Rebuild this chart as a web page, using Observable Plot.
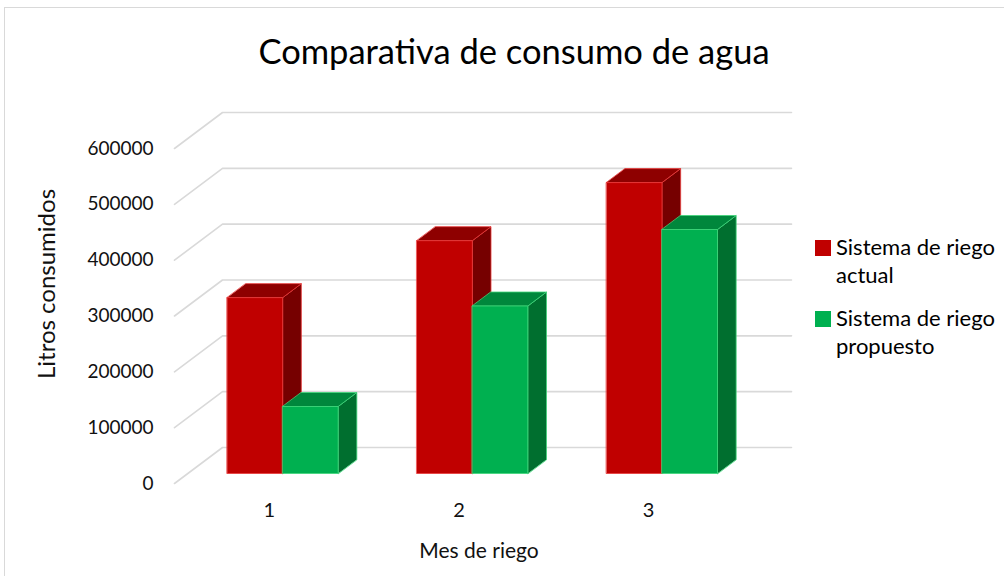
<!DOCTYPE html>
<html>
<head>
<meta charset="utf-8">
<script src="https://cdn.jsdelivr.net/npm/d3@7"></script>
<script src="https://cdn.jsdelivr.net/npm/@observablehq/plot@0.6"></script>
<style>
  body { margin: 0; background: #fff; }
  #wrap { position: relative; width: 1004px; height: 576px; overflow: hidden; font-family: Lato, "Open Sans", sans-serif; color: #000; background: #fff; }
  #frame { position: absolute; left: 4px; top: 7px; width: 1100px; height: 700px; border: 1px solid #d9d9d9; box-sizing: border-box; }
  #chart { position: absolute; left: 0; top: 0; }
  #title { position: absolute; left: 0; top: 31px; width: 1028px; text-align: center; font-size: 34.5px; line-height: 40px; color: #000; }
  .leg { position: absolute; left: 815px; font-size: 22px; line-height: 28px; color: #000; }
  .leg .sw { position: absolute; left: 0; width: 16px; height: 16px; }
  .leg .tx { position: absolute; left: 21px; white-space: nowrap; }
</style>
</head>
<body>
<div id="wrap">
  <div id="frame"></div>
  <div id="chart"></div>
  <div id="title">Comparativa de consumo de agua</div>
  <div id="legend"></div>
</div>
<script>
// ---- data ----
const meses = [1, 2, 3];
const series = ["Sistema de riego actual", "Sistema de riego propuesto"];
const legendLines = [["Sistema de riego", "actual"], ["Sistema de riego", "propuesto"]];
const actual = [315000, 417000, 521000];
const propuesto = [120000, 300000, 437000];
const yTicks = [0, 100000, 200000, 300000, 400000, 500000, 600000];

// ---- styles ----
const palettes = [
  { front: "#c00000", top: "#8e0000", side: "#760000", edge: "#e83a3a", swatch: "#c00000" },
  { front: "#00b050", top: "#00873c", side: "#006f2f", edge: "#3fd67a", swatch: "#00b050" }
];
const W = 1004, H = 576;
const M = { left: 174, right: 261, top: 148, bottom: 93 };
const X_DOMAIN = [0.5, 3.5], Y_DOMAIN = [0, 600000];
const pxX = (W - M.left - M.right) / (X_DOMAIN[1] - X_DOMAIN[0]);
const pxY = (H - M.top - M.bottom) / (Y_DOMAIN[1] - Y_DOMAIN[0]);
const depthX = 48 / pxX, depthY = 36 / pxY;   // full floor depth (oblique projection)
const barFront = 10 / 36, barBack = 24 / 36;  // bar depth fractions
const barW = 55.5 / pxX;

// gridlines (left wall diagonal + back wall horizontal)
const grid = [];
yTicks.forEach(t => {
  grid.push({ id: t, x: X_DOMAIN[0], y: t });
  grid.push({ id: t, x: X_DOMAIN[0] + depthX, y: t + depthY });
  grid.push({ id: t, x: X_DOMAIN[1] + depthX, y: t + depthY });
});

// 3D bar faces
const faces = [];
const seriesValues = [actual, propuesto];
meses.forEach((m, i) => {
  seriesValues.forEach((vals, s) => {
    const v = vals[i];
    const p = palettes[s];
    const xl = m - barW + s * barW, xr = xl + barW;
    const fx = barFront * depthX, fy = barFront * depthY;
    const bx = barBack * depthX, by = barBack * depthY;
    const add = (name, pts, fill) => pts.forEach(([x, y]) =>
      faces.push({ id: `${m}-${s}-${name}`, x, y, fill, stroke: p.edge }));
    add("side", [[xr + fx, fy], [xr + fx, v + fy], [xr + bx, v + by], [xr + bx, by]], p.side);
    add("top", [[xl + fx, v + fy], [xr + fx, v + fy], [xr + bx, v + by], [xl + bx, v + by]], p.top);
    add("front", [[xl + fx, fy], [xr + fx, fy], [xr + fx, v + fy], [xl + fx, v + fy]], p.front);
  });
});

const chart = Plot.plot({
  width: W, height: H,
  marginLeft: M.left, marginRight: M.right, marginTop: M.top, marginBottom: M.bottom,
  x: { domain: X_DOMAIN, axis: null },
  y: { domain: Y_DOMAIN, axis: null },
  color: { type: "identity" },
  style: { fontFamily: 'Lato, "Open Sans", sans-serif', fontSize: "19px", color: "#111", background: "transparent", overflow: "visible" },
  marks: [
    Plot.line(grid, { x: "x", y: "y", z: "id", stroke: "#d9d9d9", strokeWidth: 1.6 }),
    Plot.line(faces, { x: "x", y: "y", z: "id", fill: "fill", stroke: "stroke", strokeWidth: 0.8, curve: "linear-closed" }),
    Plot.axisY({ ticks: yTicks, tickSize: 0, tickPadding: 21, tickFormat: d => String(d), fontSize: 19, label: null }),
    Plot.axisX({ ticks: meses, tickSize: 0, tickPadding: 19, tickFormat: d => String(d), fontSize: 20, label: null }),
    Plot.text(["Litros consumidos"], { text: d => d, frameAnchor: "left", textAnchor: "middle", rotate: -90, dx: -127, dy: -32, fontSize: 24, lineAnchor: "middle" }),
    Plot.text(["Mes de riego"], { text: d => d, frameAnchor: "bottom", textAnchor: "middle", dx: 20, dy: 68, fontSize: 21, lineAnchor: "middle" })
  ]
});
document.getElementById("chart").appendChild(chart);

// legend
const legend = document.getElementById("legend");
const legTops = [233, 304];
series.forEach((name, s) => {
  const item = document.createElement("div");
  item.className = "leg";
  item.style.top = legTops[s] + "px";
  item.title = name;
  item.innerHTML = `<div class="sw" style="top:7px;background:${palettes[s].swatch}"></div>` +
    `<div class="tx">${legendLines[s].join("<br>")}</div>`;
  legend.appendChild(item);
});
</script>
</body>
</html>
